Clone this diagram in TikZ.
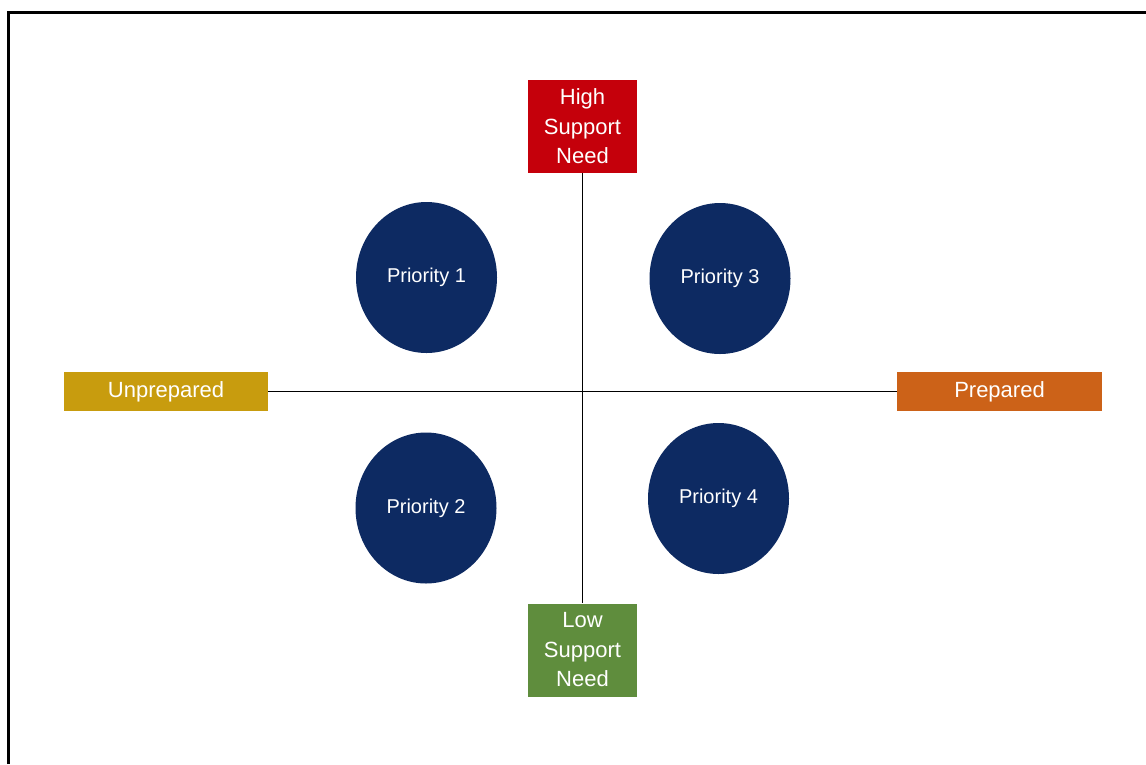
\documentclass[tikz,border=0pt]{standalone}
\usepackage{fontspec}
\setmainfont{Liberation Sans}
\usetikzlibrary{shapes.geometric}
\definecolor{navy}{HTML}{0D2A62}
\definecolor{highred}{HTML}{C5000B}
\definecolor{lowgreen}{HTML}{5F8D3D}
\definecolor{unprepgold}{HTML}{C89C0E}
\definecolor{preporange}{HTML}{CC6218}
\tikzset{
    axisbox/.style={rectangle,inner sep=0pt,text=white,align=center,
        font=\fontsize{22}{29.5}\selectfont},
    prio/.style={ellipse,fill=navy,inner sep=0pt,minimum width=141pt,
        minimum height=151pt,text=white,font=\fontsize{20}{24}\selectfont},
    axis/.style={line width=1.8pt,black}
}
\begin{document}
\begin{tikzpicture}[x=1pt,y=-1pt]
                \useasboundingbox (0,0) rectangle (1146,764);
                \fill[white] (0,0) rectangle (1146,764);
                \draw[line width=2.6pt] (8.5,764) -- (8.5,12.5) -- (1146,12.5);
                \node[axisbox,fill=highred,minimum width=109pt,minimum height=93pt] (high) at (582.5,126.5) {High\\Support\\Need};
                \node[axisbox,fill=lowgreen,minimum width=109pt,minimum height=93pt] (low) at (582.5,650) {Low\\Support\\Need};
                \node[axisbox,fill=unprepgold,minimum width=204pt,minimum height=39pt] (unprep) at (166,391.5) {Unprepared};
                \node[axisbox,fill=preporange,minimum width=205pt,minimum height=39pt] (prep) at (999.5,391.5) {Prepared};
                \draw[axis] (high.south) -- (low.north);
                \draw[axis] (unprep.east) -- (prep.west);
                \node[prio] (p1) at (426.5,277.5) {Priority 1};
                \node[prio] (p3) at (720,278.5) {Priority 3};
                \node[prio] (p2) at (426,508) {Priority 2};
                \node[prio] (p4) at (718.5,498.5) {Priority 4};
            \end{tikzpicture}
\end{document}
